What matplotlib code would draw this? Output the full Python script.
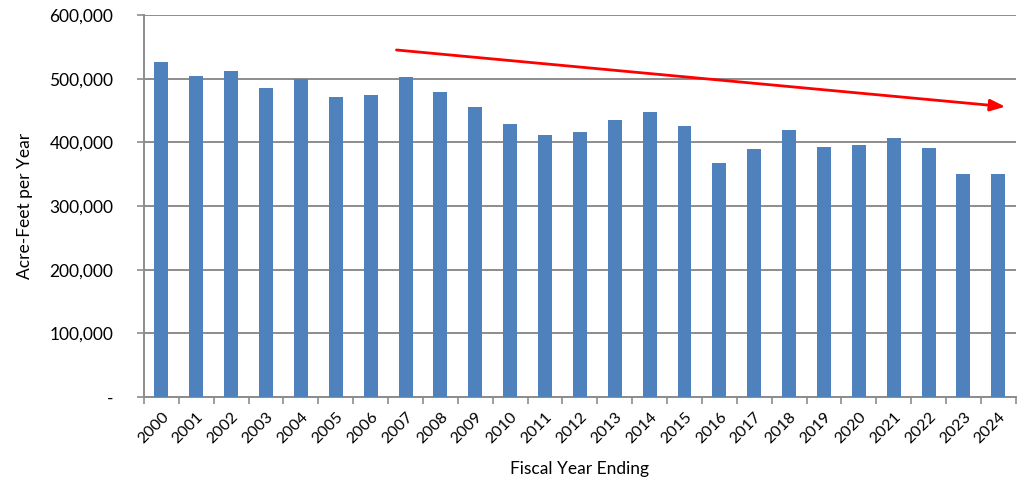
import matplotlib.pyplot as plt
import numpy as np
from matplotlib.ticker import FuncFormatter

plt.rcParams['font.family'] = ['Lato', 'DejaVu Sans']

years = [str(y) for y in range(2000, 2025)]
acre_feet = [526000, 504000, 512000, 485000, 500000, 471000, 474000, 503000,
             479000, 456000, 429000, 412000, 416000, 435000, 448000, 425000,
             367000, 389000, 419000, 393000, 396000, 407000, 391000, 351000,
             350000]

# trend arrow (start, end) in data units
arrow_start = (6.74, 545000)
arrow_end = (24.2, 456000)

fig = plt.figure(figsize=(10.25, 4.82), dpi=100)
ax = fig.add_axes([0.1405, 0.176, 0.8505, 0.793])

x = np.arange(len(years))
ax.bar(x, acre_feet, width=0.4, color='#4F81BD', zorder=3)

ax.set_xlim(-0.5, len(years) - 0.5)
ax.set_ylim(0, 600000)
ax.set_yticks(np.arange(0, 600001, 100000))
ax.yaxis.set_major_formatter(FuncFormatter(lambda v, p: '-' if v == 0 else f'{int(v):,}'))
ax.grid(axis='y', color='#8c8c8c', linewidth=1.4, zorder=0)

ax.set_xticks(x)
ax.set_xticklabels(years, rotation=45, ha='right', rotation_mode='anchor')
ax.set_xticks(np.arange(-0.5, len(years)), minor=True)
ax.tick_params(axis='x', which='major', length=0, labelsize=11.5, pad=9)
ax.tick_params(axis='x', which='minor', length=5, color='#8c8c8c', width=1.2)
ax.tick_params(axis='y', length=5, color='#8c8c8c', width=1.2, labelsize=12.5, pad=17)

for s in ['top', 'right']:
    ax.spines[s].set_visible(False)
for s in ['left', 'bottom']:
    ax.spines[s].set_color('#8c8c8c')
    ax.spines[s].set_linewidth(1.4)

ax.set_ylabel('Acre-Feet per Year', fontsize=12.5, labelpad=12)
ax.set_xlabel('Fiscal Year Ending', fontsize=12.5, labelpad=11)

ax.annotate('', xy=arrow_end, xytext=arrow_start,
            arrowprops=dict(arrowstyle='-|>,head_length=0.9,head_width=0.35',
                            color='#FF0000', lw=2, shrinkA=0, shrinkB=0),
            zorder=5)

fig.savefig('out.png', dpi=100)
